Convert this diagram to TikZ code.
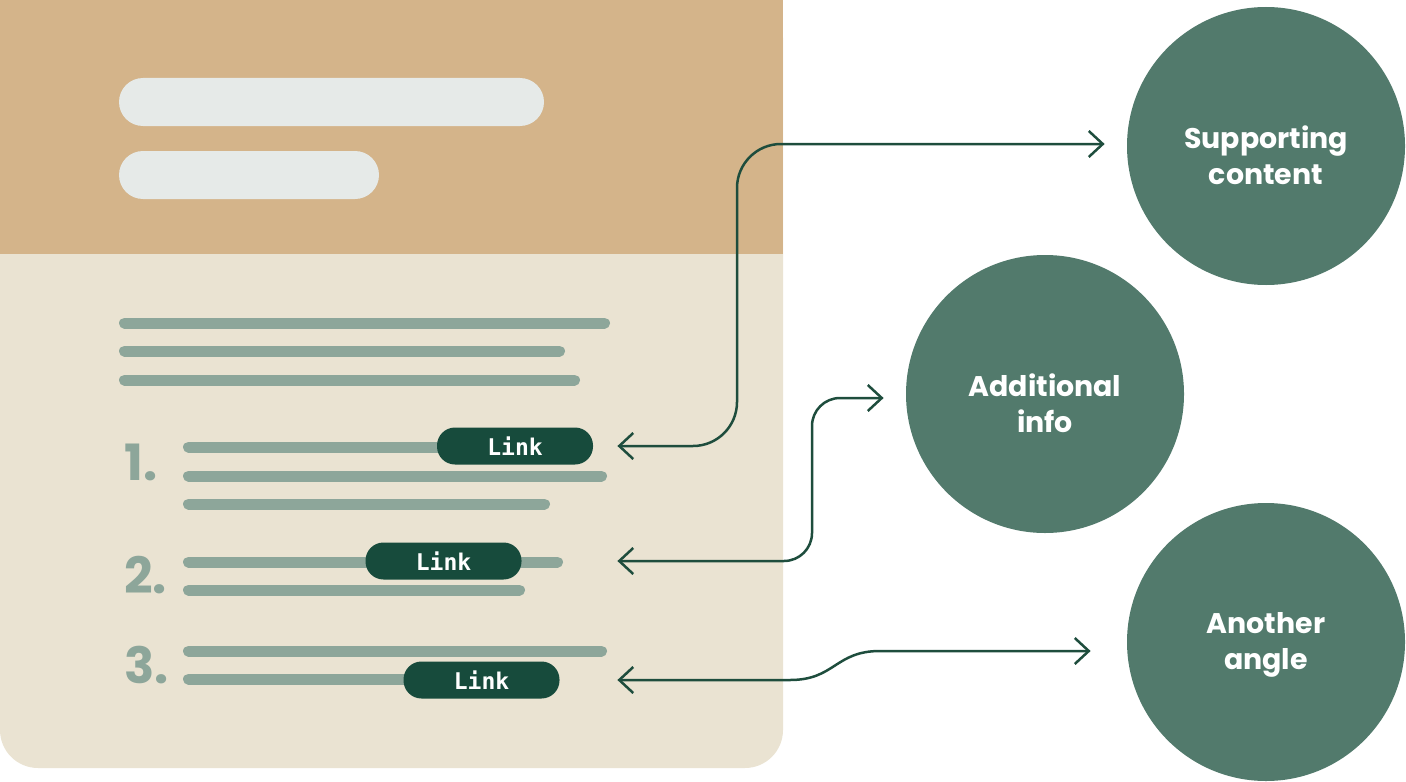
\documentclass[tikz,border=0pt]{standalone}
\usepackage{fontspec}
\setmainfont{Poppins}
\newfontfamily\linkfont{DejaVu Sans Mono}
\usepackage{tikz}
\usetikzlibrary{arrows.meta, positioning, calc}
\definecolor{headertan}{HTML}{D4B48A}
\definecolor{pagecream}{HTML}{EAE3D2}
\definecolor{barlight}{HTML}{E6EAE8}
\definecolor{textsage}{HTML}{8DA69A}
\definecolor{linkgreen}{HTML}{174B3C}
\definecolor{arrowgreen}{HTML}{1E4D3D}
\definecolor{topicgreen}{HTML}{527A6C}

\begin{document}
\begin{tikzpicture}[x=0.5pt, y=-0.5pt,
    textline/.style={line width=5.5pt, line cap=round, textsage},
    headbar/.style={barlight, rounded corners=12pt},
    linkpill/.style={rectangle, rounded corners=9pt, fill=linkgreen, text=white,
        minimum width=78pt, minimum height=18.5pt, inner sep=0pt,
        font=\linkfont\bfseries\fontsize{11.5}{12}\selectfont},
    topic/.style={circle, fill=topicgreen, minimum size=139pt, inner sep=0pt},
    topictext/.style={text=white, inner sep=0pt, align=center,
        font=\bfseries\fontsize{14.2}{18}\selectfont},
    itemnum/.style={anchor=base west, inner sep=0pt, text=textsage,
        font=\bfseries\fontsize{25}{25}\selectfont},
    conn/.style={arrowgreen, line width=1.25pt,
        {Straight Barb[length=7pt,width=13pt]}-{Straight Barb[length=7pt,width=13pt]}}
]
    \useasboundingbox (0,0) rectangle (1406,781);

    % Page card
    \fill[pagecream, rounded corners=19pt] (0,0) rectangle (783,768);
    \fill[headertan] (0,0) rectangle (783,254);

    % Title bars
    \fill[headbar] (119,78) rectangle (544,126);
    \fill[headbar] (119,151) rectangle (379,199);

    % Intro paragraph
    \foreach \y/\xe in {323/610, 351/565, 380/580}
        \draw[textline] (124.5,\y) -- (\xe-5.5,\y);

    % Numbered list
    \node[itemnum] (num1) at (124,480) {1.};
    \node[itemnum] (num2) at (124,593) {2.};
    \node[itemnum] (num3) at (124,683) {3.};

    \foreach \y/\xe in {447/590, 476/607, 504/550, 562/563, 590/525, 651/607, 679/555}
        \draw[textline] (188.5,\y) -- (\xe-5.5,\y);

    \node[linkpill] (link1) at (515,446) {Link};
    \node[linkpill] (link2) at (443.5,561) {Link};
    \node[linkpill] (link3) at (481.5,680) {Link};

    % Topics
    \node[topic, label={[topictext, yshift=-4.5pt]center:Supporting\\content}] (support) at (1266,146) {};
    \node[topic, label={[topictext, yshift=-4.5pt]center:Additional\\info}] (extra) at (1045,394) {};
    \node[topic, label={[topictext, yshift=-1.5pt]center:Another\\angle}] (another) at (1266,642) {};

    % Connectors
    \coordinate[right=12pt of link1.east] (back1);
    \coordinate (back2) at (link2.east -| back1);
    \coordinate (back3) at (link3.east -| back1);

    \draw[conn, rounded corners=22pt] (back1) -| (737,300) |- ([yshift=1pt, xshift=-11pt]support.west);
    \draw[conn, rounded corners=14pt] (back2) -| (812,480) |- ([yshift=-2pt, xshift=-11pt]extra.west);
    \draw[conn] (back3) -- (790,680) .. controls (835,680) and (835,651) .. (880,651)
        -- ([shift={(-18pt,-4.5pt)}]another.west);
\end{tikzpicture}
\end{document}
